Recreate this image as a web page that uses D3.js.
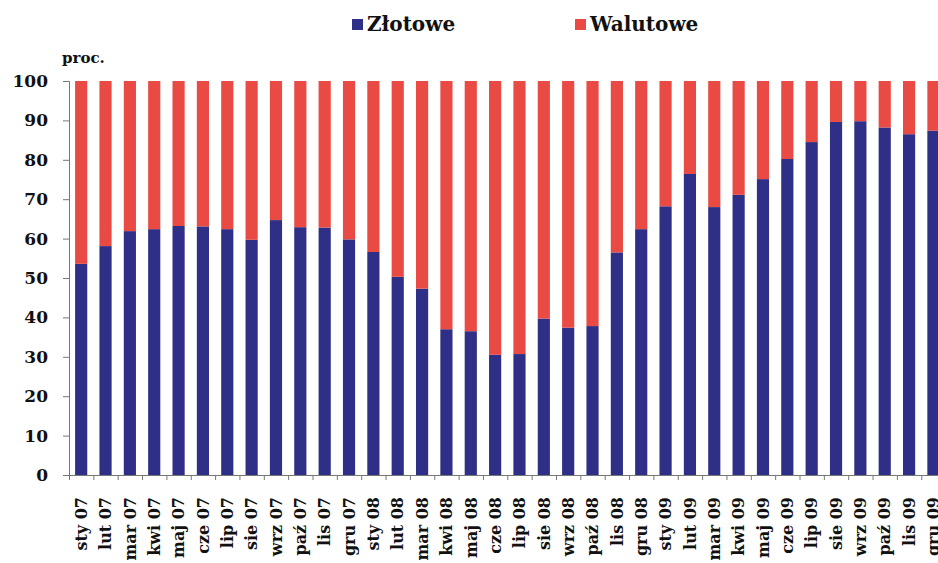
<!DOCTYPE html>
<html>
<head>
<meta charset="utf-8">
<script src="https://cdn.jsdelivr.net/npm/d3@7"></script>
<style>
  body { margin: 0; background: #fff; }
  text { font-family: "DejaVu Serif", serif; font-weight: bold; fill: #111; }
</style>
</head>
<body>
<svg id="chart" width="938" height="563"></svg>
<script>
// months (x categories)
const months = ["sty 07","lut 07","mar 07","kwi 07","maj 07","cze 07","lip 07","sie 07","wrz 07","paź 07","lis 07","gru 07",
  "sty 08","lut 08","mar 08","kwi 08","maj 08","cze 08","lip 08","sie 08","wrz 08","paź 08","lis 08","gru 08",
  "sty 09","lut 09","mar 09","kwi 09","maj 09","cze 09","lip 09","sie 09","wrz 09","paź 09","lis 09","gru 09"]

// share of zloty loans, percent
const zlotowe = [53.6,58.1,61.9,62.4,63.2,63.1,62.4,59.7,64.7,62.9,62.8,59.8,
  56.6,50.3,47.3,37.0,36.5,30.5,30.7,39.7,37.4,37.8,56.5,62.4,
  68.2,76.4,68.0,71.1,75.1,80.2,84.5,89.6,89.8,88.2,86.5,87.4]
// foreign currency share is the rest up to 100
const walutowe = zlotowe.map(v => 100 - v)

const yTicks = [0,10,20,30,40,50,60,70,80,90,100]
const seriesNames = ["Złotowe", "Walutowe"]
const colors = ["#302f88", "#ea4a44"]

const svg = d3.select("#chart")

// plot area
const plotLeft = 69, plotBottom = 475, plotTop = 81
const step = 24.35
const plotRight = plotLeft + step * months.length

const x = d3.scaleBand()
  .domain(months)
  .range([plotLeft, plotRight])
  .paddingInner(0.5)
  .paddingOuter(0.25)

const y = d3.scaleLinear()
  .domain([0, 100])
  .range([plotBottom, plotTop])

// stack the two series
const rows = months.map((m, i) => ({month: m, "Złotowe": zlotowe[i], "Walutowe": walutowe[i]}))
const stacked = d3.stack().keys(seriesNames)(rows)

svg.append("g")
  .selectAll("g")
  .data(stacked)
  .enter()
  .append("g")
  .attr("fill", (d, i) => colors[i])
  .selectAll("rect")
  .data(d => d)
  .enter()
  .append("rect")
  .attr("x", d => x(d.data.month))
  .attr("y", d => y(d[1]))
  .attr("width", x.bandwidth())
  .attr("height", d => y(d[0]) - y(d[1]))

// y axis
const yAxis = svg.append("g")
  .attr("transform", "translate(" + plotLeft + ",0)")
  .call(d3.axisLeft(y).tickValues(yTicks).tickSize(6).tickPadding(15))
yAxis.select(".domain").attr("stroke", "#777")
yAxis.selectAll("line").attr("stroke", "#777")
yAxis.selectAll("text").style("font-size", "17px").attr("fill", "#111")

// x axis: tick marks between bars
const xEdges = d3.scaleLinear().domain([0, months.length]).range([plotLeft, plotRight])
const xTickAxis = svg.append("g")
  .attr("transform", "translate(0," + plotBottom + ")")
  .call(d3.axisBottom(xEdges).tickValues(d3.range(months.length + 1)).tickFormat("").tickSize(5).tickSizeOuter(0))
xTickAxis.select(".domain").attr("stroke", "#777")
xTickAxis.selectAll("line").attr("stroke", "#777")

// x axis labels, rotated
const xLabelAxis = svg.append("g")
  .attr("transform", "translate(0," + plotBottom + ")")
  .call(d3.axisBottom(x).tickSize(0))
xLabelAxis.select(".domain").remove()
xLabelAxis.selectAll("text")
  .attr("transform", "rotate(-90)")
  .attr("x", -22)
  .attr("y", 0)
  .attr("dy", "0.36em")
  .style("text-anchor", "end")
  .style("font-size", "16px")
  .attr("fill", "#111")

// unit label
svg.append("text")
  .attr("x", 62)
  .attr("y", 63)
  .style("font-size", "15px")
  .text("proc.")

// legend
const legendX = [352, 575]
const legend = svg.append("g")
  .selectAll("g")
  .data(seriesNames)
  .enter()
  .append("g")
  .attr("transform", (d, i) => "translate(" + legendX[i] + ",19)")
legend.append("rect")
  .attr("width", 11)
  .attr("height", 11)
  .attr("fill", (d, i) => colors[i])
legend.append("text")
  .attr("x", 15)
  .attr("y", 12)
  .style("font-size", "20px")
  .text(d => d)
</script>
</body>
</html>
